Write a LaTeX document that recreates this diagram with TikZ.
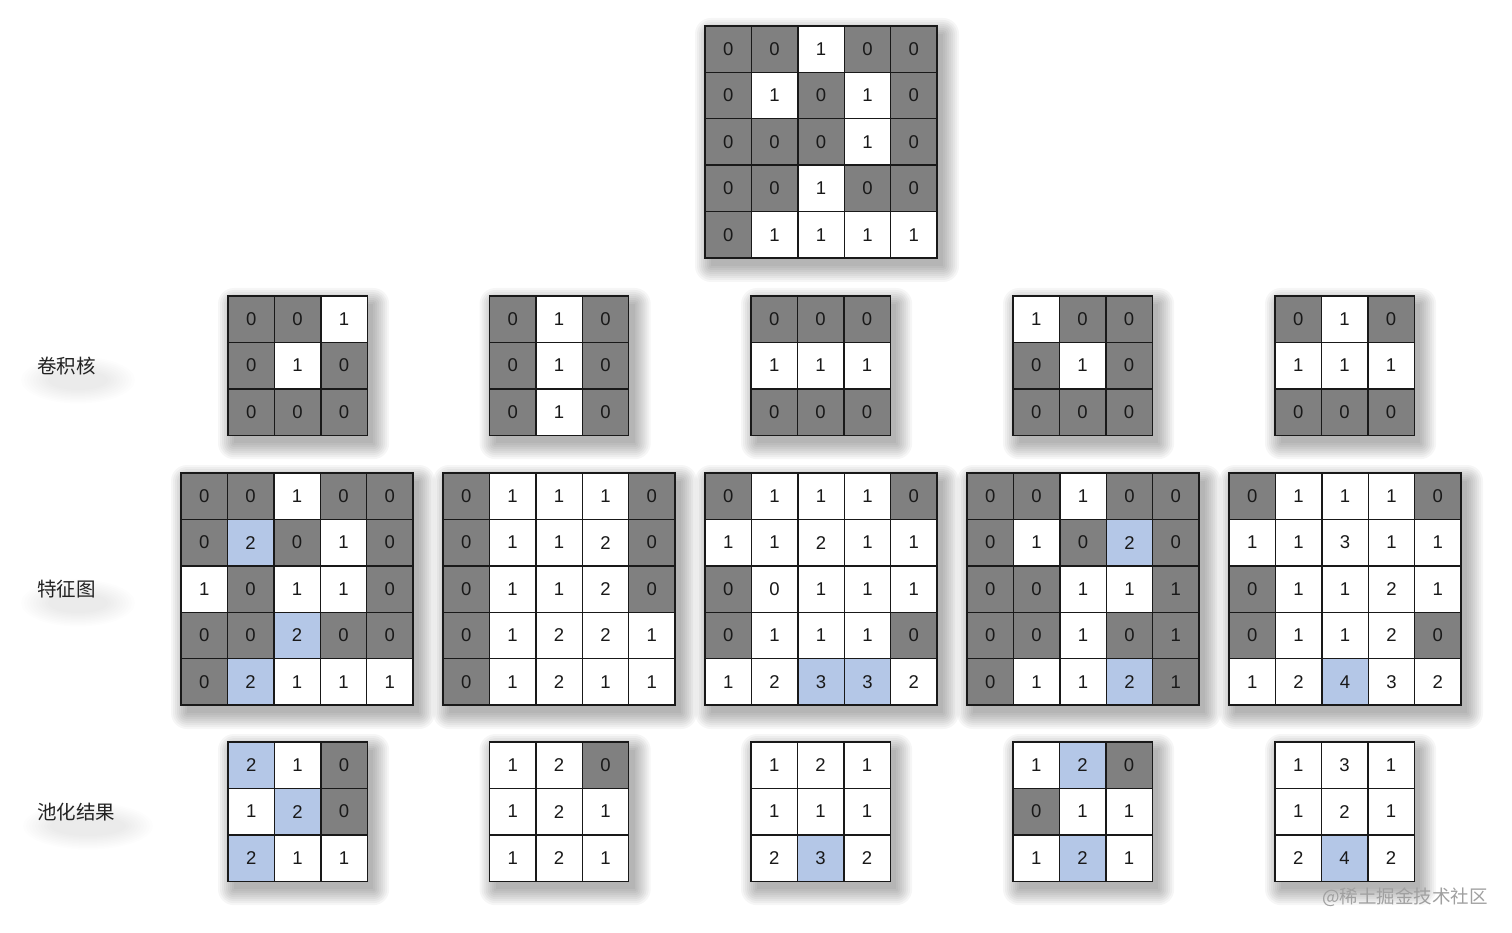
\documentclass[tikz,border=0pt]{standalone}
\usepackage{fontspec}
\newfontfamily\digitfont{Liberation Sans}
\newfontfamily\cjk{Noto Sans CJK SC}
\definecolor{cG}{HTML}{808080}
\definecolor{cW}{HTML}{FFFFFF}
\definecolor{cB}{HTML}{B4C7E7}
\definecolor{lbl}{HTML}{222222}
\definecolor{wmk}{HTML}{A0A0A0}
\def\cs{46.4}
\newcommand\gridshadow[3]{%
  \foreach \k in {0,...,8}{
    \pgfmathsetmacro\e{2*\k}
    \fill[black,opacity=0.035,rounded corners=\e pt] ({#1+6-\e},{#2+8-\e}) rectangle ({#1+#3*\cs+6+\e},{#2+#3*\cs+8+\e});
  }}
\newcommand\labelglow[4]{%
  \foreach \k in {0,...,9}{
    \pgfmathsetmacro\e{3*\k}
    \fill[black,opacity=0.006] (#1,#2) ellipse ({#3+\e} and {#4+\e/2});
  }}
\newcommand\mkgrid[5]{%
  \foreach \v/\c [count=\i from 0] in {#5}{
    \pgfmathtruncatemacro\rr{floor(\i/#4)}
    \pgfmathtruncatemacro\cc{\i-#4*\rr}
    \node[cell,fill=\c] (#1-\rr-\cc) at ({#2+(\cc+0.5)*\cs},{#3+(\rr+0.5)*\cs}) {\v};
  }}
\tikzset{
  cell/.style={draw=black!90,line width=1.4pt,minimum size=46.4pt,inner sep=0pt,
    font=\digitfont\fontsize{18.5}{18.5}\selectfont,text=black!90},
  lab/.style={anchor=west,inner sep=0pt,font=\cjk\fontsize{19.5}{19.5}\selectfont,text=lbl},
}
\begin{document}
\begin{tikzpicture}[x=1pt,y=-1pt]
\useasboundingbox[fill=white] (0,0) rectangle (1512,933);
% shadows
\gridshadow{705}{26}{5}
\foreach \x in {228,489.5,751,1013,1275}{\gridshadow{\x}{296}{3}\gridshadow{\x}{742}{3}}
\foreach \x in {181,443,705,967,1229}{\gridshadow{\x}{473}{5}}
\labelglow{78}{380}{30}{10}
\labelglow{78}{603}{30}{10}
\labelglow{88}{826}{38}{10}
% input
\mkgrid{in}{705}{26}{5}{0/cG,0/cG,1/cW,0/cG,0/cG, 0/cG,1/cW,0/cG,1/cW,0/cG, 0/cG,0/cG,0/cG,1/cW,0/cG, 0/cG,0/cG,1/cW,0/cG,0/cG, 0/cG,1/cW,1/cW,1/cW,1/cW}
% kernels
\mkgrid{k1}{228}{296}{3}{0/cG,0/cG,1/cW, 0/cG,1/cW,0/cG, 0/cG,0/cG,0/cG}
\mkgrid{k2}{489.5}{296}{3}{0/cG,1/cW,0/cG, 0/cG,1/cW,0/cG, 0/cG,1/cW,0/cG}
\mkgrid{k3}{751}{296}{3}{0/cG,0/cG,0/cG, 1/cW,1/cW,1/cW, 0/cG,0/cG,0/cG}
\mkgrid{k4}{1013}{296}{3}{1/cW,0/cG,0/cG, 0/cG,1/cW,0/cG, 0/cG,0/cG,0/cG}
\mkgrid{k5}{1275}{296}{3}{0/cG,1/cW,0/cG, 1/cW,1/cW,1/cW, 0/cG,0/cG,0/cG}
% feature maps
\mkgrid{f1}{181}{473}{5}{0/cG,0/cG,1/cW,0/cG,0/cG, 0/cG,2/cB,0/cG,1/cW,0/cG, 1/cW,0/cG,1/cW,1/cW,0/cG, 0/cG,0/cG,2/cB,0/cG,0/cG, 0/cG,2/cB,1/cW,1/cW,1/cW}
\mkgrid{f2}{443}{473}{5}{0/cG,1/cW,1/cW,1/cW,0/cG, 0/cG,1/cW,1/cW,2/cW,0/cG, 0/cG,1/cW,1/cW,2/cW,0/cG, 0/cG,1/cW,2/cW,2/cW,1/cW, 0/cG,1/cW,2/cW,1/cW,1/cW}
\mkgrid{f3}{705}{473}{5}{0/cG,1/cW,1/cW,1/cW,0/cG, 1/cW,1/cW,2/cW,1/cW,1/cW, 0/cG,0/cW,1/cW,1/cW,1/cW, 0/cG,1/cW,1/cW,1/cW,0/cG, 1/cW,2/cW,3/cB,3/cB,2/cW}
\mkgrid{f4}{967}{473}{5}{0/cG,0/cG,1/cW,0/cG,0/cG, 0/cG,1/cW,0/cG,2/cB,0/cG, 0/cG,0/cG,1/cW,1/cW,1/cG, 0/cG,0/cG,1/cW,0/cG,1/cG, 0/cG,1/cW,1/cW,2/cB,1/cG}
\mkgrid{f5}{1229}{473}{5}{0/cG,1/cW,1/cW,1/cW,0/cG, 1/cW,1/cW,3/cW,1/cW,1/cW, 0/cG,1/cW,1/cW,2/cW,1/cW, 0/cG,1/cW,1/cW,2/cW,0/cG, 1/cW,2/cW,4/cB,3/cW,2/cW}
% pooling
\mkgrid{p1}{228}{742}{3}{2/cB,1/cW,0/cG, 1/cW,2/cB,0/cG, 2/cB,1/cW,1/cW}
\mkgrid{p2}{489.5}{742}{3}{1/cW,2/cW,0/cG, 1/cW,2/cW,1/cW, 1/cW,2/cW,1/cW}
\mkgrid{p3}{751}{742}{3}{1/cW,2/cW,1/cW, 1/cW,1/cW,1/cW, 2/cW,3/cB,2/cW}
\mkgrid{p4}{1013}{742}{3}{1/cW,2/cB,0/cG, 0/cG,1/cW,1/cW, 1/cW,2/cB,1/cW}
\mkgrid{p5}{1275}{742}{3}{1/cW,3/cW,1/cW, 1/cW,2/cW,1/cW, 2/cW,4/cB,2/cW}
% labels
\node[lab] (lk) at (37,366) {卷积核};
\node[lab] (lf) at (37,589) {特征图};
\node[lab] (lp) at (37,812) {池化结果};
\node[anchor=east,inner sep=0pt,text=wmk,font=\cjk\fontsize{18.5}{18.5}\selectfont] (wm) at (1488,897) {@稀土掘金技术社区};
\end{tikzpicture}
\end{document}
